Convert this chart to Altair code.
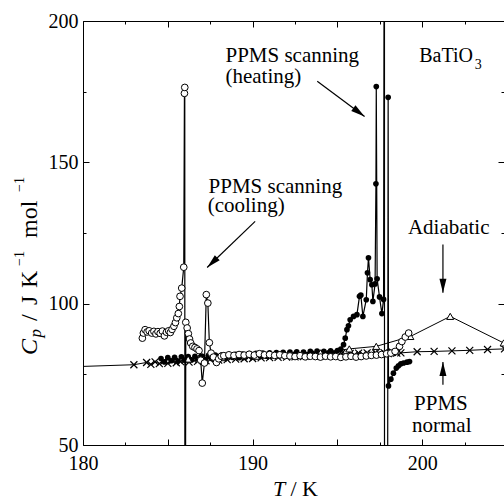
import altair as alt
import pandas as pd

# ---------------- data ----------------
# PPMS normal (x markers)
normal_T = [176.0, 183.0,
            183.75, 184.0, 184.25, 184.5, 184.75, 185.0, 185.25, 185.5, 185.75, 186.0,
            186.25, 186.5, 186.75, 187.0, 187.25, 187.5, 187.75, 188.0, 188.25, 188.5,
            188.75, 189.0, 189.25, 189.5, 189.75, 190.0, 190.25, 190.5, 190.75, 191.0,
            191.25, 191.5, 191.75, 192.0, 192.25, 192.5, 192.75, 193.0, 193.25, 193.5,
            193.75, 194.0, 194.25, 194.5, 194.75, 195.0, 195.25, 195.5, 195.75, 196.0,
            196.25, 196.5, 196.75, 197.0, 197.25, 197.5, 197.75, 198.0, 198.25, 198.5,
            198.74, 199.7, 200.7, 201.75, 202.8, 203.85, 204.85, 205.9]
normal_Cp = [77.0, 78.4,
             79.2, 78.5, 79.4, 78.8, 79.6, 78.9, 79.9, 79.1, 79.5, 80.1,
             79.3, 80.2, 79.6, 80.5, 79.8, 80.3, 80.9, 80.0, 80.7, 80.2,
             81.0, 80.4, 81.1, 80.5, 81.2, 80.6, 81.4, 80.8, 81.5, 80.9,
             81.6, 81.0, 81.7, 81.1, 81.8, 81.2, 81.9, 81.3, 82.0, 81.4,
             82.1, 81.5, 82.2, 81.6, 82.3, 81.7, 82.4, 81.8, 82.4, 81.9,
             82.5, 82.0, 82.6, 82.1, 82.6, 82.2, 82.7, 82.3, 82.8, 82.5,
             82.6, 83.0, 83.1, 83.3, 83.5, 83.8, 84.0, 84.2]

# PPMS scanning, heating (filled circles)
heat_T = [184.6, 184.8, 185.0, 185.2, 185.4, 185.6, 185.8, 186.0, 186.2, 186.4,
          186.6, 186.8, 187.0, 187.2, 187.4, 187.6, 187.8, 188.0, 188.2, 188.4,
          188.6, 188.8, 189.0, 189.2, 189.4, 189.6, 189.8, 190.0, 190.2, 190.4,
          190.6, 190.8, 191.0, 191.2, 191.4, 191.6, 191.8, 192.0, 192.2, 192.4,
          192.6, 192.8, 193.0, 193.2, 193.4, 193.6, 193.8, 194.0, 194.2, 194.4,
          194.6, 194.8, 195.0, 195.2,
          195.36, 195.46, 195.56, 195.65, 195.75, 195.95, 196.15, 196.30, 196.38, 196.50,
          196.70, 196.77, 196.83, 196.93, 197.03, 197.09, 197.22, 197.27, 197.29, 197.34,
          197.48, 197.62, 197.72, 197.77, 197.78, 197.92, 197.99, 198.01, 198.15, 198.30,
          198.47, 198.60, 198.74, 198.90, 199.10, 199.25]
heat_Cp = [80.6, 79.4, 80.9, 79.8, 81.0, 79.7, 81.2, 80.0, 81.3, 80.1,
           81.4, 80.4, 81.5, 80.3, 81.7, 80.6, 81.8, 80.7, 81.9, 80.9,
           82.0, 81.0, 82.1, 80.9, 82.2, 81.2, 82.3, 81.1, 82.4, 81.3,
           82.5, 81.4, 82.6, 81.5, 82.7, 81.6, 82.8, 81.7, 82.9, 81.8,
           83.0, 81.9, 82.9, 82.0, 83.1, 82.1, 83.2, 82.2, 83.1, 82.4,
           83.3, 82.5, 83.4, 83.9,
           85.5, 87.8, 90.8, 92.2, 94.3, 95.5, 96.1, 102.6, 103.0, 95.5,
           101.4, 110.9, 116.2, 108.5, 106.7, 100.8, 107.0, 142.4, 176.8, 108.8,
           102.4, 96.5, 101.5, 300.0, -150.0, -150.0, 173.0, 70.9, 73.3, 75.4,
           77.2, 78.0, 78.7, 79.0, 79.3, 79.5]

# PPMS scanning, cooling (open circles)
cool_T = [183.50, 183.56, 183.66, 183.78, 183.90, 184.05, 184.18, 184.30, 184.42, 184.55,
          184.68, 184.80, 184.92, 185.05, 185.15, 185.25, 185.36, 185.45, 185.53, 185.62,
          185.68, 185.72, 185.82, 185.94, 185.98, 186.00, 186.01, 186.06, 186.14, 186.21,
          186.28, 186.35, 186.47, 186.60, 186.72, 186.84, 186.94, 187.03, 187.16, 187.27,
          187.36, 187.45, 187.55, 187.69, 187.87, 188.00, 188.15,
          188.3, 188.6, 188.9, 189.2, 189.5, 189.8, 190.1, 190.4, 190.7, 191.0,
          191.3, 191.6, 191.9, 192.2, 192.5, 192.8, 193.1, 193.4, 193.7, 194.0,
          194.3, 194.6, 194.9, 195.2, 195.5, 195.8, 196.1, 196.4, 196.7,
          197.0, 197.3, 197.6, 197.9, 198.15, 198.4, 198.66, 198.8, 199.0, 199.2]
cool_Cp = [87.8, 89.6, 90.8, 90.0, 90.4, 89.6, 90.2, 89.3, 90.1, 89.5,
           90.3, 88.6, 89.9, 90.4, 89.8, 90.9, 92.0, 93.3, 95.0, 96.5,
           99.0, 102.6, 105.5, 112.9, 174.4, 176.5, -100.0, 93.4, 91.4, 89.4,
           87.5, 86.1, 84.9, 84.5, 84.0, 83.4, 80.0, 71.9, 79.0, 103.2,
           100.2, 86.2, 82.5, 81.1, 79.2, 80.5, 81.4,
           81.6, 81.9, 81.7, 82.0, 81.8, 82.1, 81.8, 82.3, 81.9, 82.0,
           81.7, 81.9, 81.6, 81.5, 81.3, 81.6, 81.2, 81.4, 81.3, 81.1,
           81.4, 81.2, 81.3, 81.0, 81.2, 81.4, 81.1, 81.3, 81.5,
           81.7, 81.8, 82.0, 82.3, 82.5, 83.1, 84.9, 86.6, 88.2, 89.6]

# Adiabatic (open triangles)
adia_T = [186.2, 188.2, 190.2, 192.2, 194.0, 195.7, 197.29, 199.3, 201.65, 204.8, 207.0]
adia_Cp = [80.4, 80.9, 81.4, 81.9, 82.6, 84.0, 84.9, 88.4, 95.5, 86.1, 84.0]

# annotation texts (data coordinates)
lab_left_text = ["PPMS scanning", "(heating)", "PPMS scanning", "(cooling)"]
lab_left_T = [188.40, 188.40, 187.40, 187.35]
lab_left_Cp = [185.4, 177.9, 139.3, 132.3]
lab_ctr_text = ["Adiabatic", "PPMS", "normal"]
lab_ctr_T = [201.56, 201.10, 201.15]
lab_ctr_Cp = [124.8, 62.4, 54.7]

# arrows: tail -> head (data coordinates), head angle (deg, clockwise from up)
arr_tail_T = [193.81, 190.15, 201.22, 201.22]
arr_tail_Cp = [178.7, 129.1, 120.9, 71.3]
arr_head_T = [196.60, 187.32, 201.22, 201.22]
arr_head_Cp = [166.2, 112.8, 103.9, 79.4]
arr_angle = [126.7, 226.2, 180.0, 0.0]

x_major = [180, 185, 190, 195, 200]
x_minor = [182.5, 187.5, 192.5, 197.5, 202.5]
x_labels = [180, 190, 200]
y_major = [50, 100, 150, 200]
y_minor = [75, 125, 175]

# ---------------- chart ----------------
FONT = "Liberation Serif, Times New Roman, Times, serif"
W, H = 421, 424
xs = alt.Scale(domain=[180, 204.82], nice=False, zero=False)
ys = alt.Scale(domain=[50, 200], nice=False, zero=False)


def axis(orient, **kw):
    base = dict(orient=orient, grid=False, labels=False, ticks=False, domain=False,
                title=None, tickColor="black", domainColor="black", tickWidth=1,
                domainWidth=1)
    base.update(kw)
    return alt.Axis(**base)


X_lab = axis("bottom", values=x_labels, labels=True, labelFont=FONT, labelFontSize=20,
             labelColor="black", labelPadding=8, labelFlush=False, tickSize=0, domain=True)
X_bmaj = axis("bottom", values=x_major, ticks=True, tickSize=6, offset=-6)
X_bmin = axis("bottom", values=x_minor, ticks=True, tickSize=3, offset=-3)
X_top = axis("top", values=x_major, domain=True, tickSize=0)
X_tmaj = axis("top", values=x_major, ticks=True, tickSize=6, offset=-6)
X_tmin = axis("top", values=x_minor, ticks=True, tickSize=3, offset=-3)
Y_lab = axis("left", values=y_major, labels=True, labelFont=FONT, labelFontSize=20,
             labelColor="black", labelPadding=5, tickSize=0, domain=True)
Y_lmaj = axis("left", values=y_major, ticks=True, tickSize=6, offset=-6)
Y_lmin = axis("left", values=y_minor, ticks=True, tickSize=3, offset=-3)
Y_rmaj = axis("right", values=y_major, ticks=True, tickSize=6, offset=-6)
Y_rmin = axis("right", values=y_minor, ticks=True, tickSize=3, offset=-3)


def series(T, Cp):
    return pd.DataFrame({"T": T, "Cp": Cp, "i": list(range(len(T)))})


def enc(xa=None, ya=None):
    return dict(x=alt.X("T:Q", scale=xs, axis=xa),
                y=alt.Y("Cp:Q", scale=ys, axis=ya),
                order=alt.Order("i:Q"))


normal_df = series(normal_T, normal_Cp)
heat_df = series(heat_T, heat_Cp)
cool_df = series(cool_T, cool_Cp)
adia_df = series(adia_T, adia_Cp)

CROSS = "M-1,-1L1,1M-1,1L1,-1"
HEAD = "M0,0L0.5,2L-0.5,2Z"

normal_line = alt.Chart(normal_df).mark_line(color="black", strokeWidth=1, clip=True).encode(**enc(X_lab, Y_lab))
normal_pts = alt.Chart(normal_df).mark_point(shape=CROSS, size=49, filled=False, stroke="black",
                                              strokeWidth=1.2, opacity=1, clip=True).encode(**enc(X_bmaj, Y_lmaj))
heat_line = alt.Chart(heat_df).mark_line(color="black", strokeWidth=1.2, clip=True).encode(**enc(X_bmin, Y_lmin))
heat_pts = alt.Chart(heat_df).mark_circle(size=32, color="black", opacity=1, clip=True).encode(**enc(X_top, Y_rmaj))
adia_line = alt.Chart(adia_df).mark_line(color="black", strokeWidth=1, clip=True).encode(**enc(X_tmaj, Y_rmin))
adia_pts = alt.Chart(adia_df).mark_point(shape="triangle-up", size=50, filled=True, fill="white",
                                          stroke="black", strokeWidth=1, opacity=1, clip=True).encode(**enc(X_tmin, None))
cool_line = alt.Chart(cool_df).mark_line(color="black", strokeWidth=1.2, clip=True).encode(**enc(None, None))
cool_pts = alt.Chart(cool_df).mark_point(shape="circle", size=45, filled=True, fill="white",
                                          stroke="black", strokeWidth=1, opacity=1, clip=True).encode(**enc(None, None))

arr_df = pd.DataFrame({"tx": arr_tail_T, "ty": arr_tail_Cp, "hx": arr_head_T, "hy": arr_head_Cp,
                       "ang": arr_angle})
arr_rule = alt.Chart(arr_df).mark_rule(color="black", strokeWidth=1.2).encode(
    x=alt.X("tx:Q", scale=xs, axis=None), y=alt.Y("ty:Q", scale=ys, axis=None),
    x2="hx:Q", y2="hy:Q")
arr_head = alt.Chart(arr_df).mark_point(shape=HEAD, size=196, filled=True, color="black",
                                         opacity=1, strokeWidth=0).encode(
    x=alt.X("hx:Q", scale=xs, axis=None), y=alt.Y("hy:Q", scale=ys, axis=None),
    angle=alt.Angle("ang:Q", scale=None))

left_df = pd.DataFrame({"T": lab_left_T, "Cp": lab_left_Cp, "t": lab_left_text})
ctr_df = pd.DataFrame({"T": lab_ctr_T, "Cp": lab_ctr_Cp, "t": lab_ctr_text})
txt_left = alt.Chart(left_df).mark_text(font=FONT, fontSize=21, align="left", baseline="alphabetic",
                                        color="black").encode(
    x=alt.X("T:Q", scale=xs, axis=None), y=alt.Y("Cp:Q", scale=ys, axis=None), text="t:N")
txt_ctr = alt.Chart(ctr_df).mark_text(font=FONT, fontSize=21, align="center", baseline="alphabetic",
                                      color="black").encode(
    x=alt.X("T:Q", scale=xs, axis=None), y=alt.Y("Cp:Q", scale=ys, axis=None), text="t:N")

formula_df = pd.DataFrame({"T": [199.82, 203.10], "Cp": [185.4, 183.0], "t": ["BaTiO", "3"],
                           "fs": [20, 14]})
formula = alt.Chart(formula_df).mark_text(font=FONT, align="left", baseline="alphabetic",
                                          color="black").encode(
    x=alt.X("T:Q", scale=xs, axis=None), y=alt.Y("Cp:Q", scale=ys, axis=None), text="t:N",
    size=alt.Size("fs:Q", scale=None))

# axis titles composed of pieces (pixel offsets from the plot origin)
OX, OY = 83, 21


def piece(text, px, py, fs, italic=False, angle=0):
    kw = dict(text=text, font=FONT, fontSize=fs, align="left", baseline="alphabetic", color="black")
    if italic:
        kw["fontStyle"] = "italic"
    if angle:
        kw["angle"] = angle
    return alt.Chart(pd.DataFrame({"a": [0]})).mark_text(**kw).encode(
        x=alt.value(px - OX), y=alt.value(py - OY))


BX = 37
SX = 24
titles = [
    piece("T", 273, 496, 22, italic=True),
    piece("/ K", 290.5, 496, 22),
    piece("C", BX, 355, 24, italic=True, angle=270),
    piece("p", BX + 4, 337.5, 17, italic=True, angle=270),
    piece("/", BX, 321, 24, angle=270),
    piece("J", BX, 305, 24, angle=270),
    piece("K", BX, 288, 24, angle=270),
    piece("\u22121", SX, 266, 14, angle=270),
    piece("mol", BX, 238, 24, angle=270),
    piece("\u22121", SX, 192, 14, angle=270),
]

chart = alt.layer(
    normal_line, normal_pts, heat_line, heat_pts, adia_line, adia_pts, cool_line, cool_pts,
    arr_rule, arr_head, txt_left, txt_ctr, formula, *titles
).resolve_axis(x="independent", y="independent").properties(
    width=W, height=H,
    autosize=alt.AutoSizeParams(type="none"),
    padding={"left": OX, "top": OY, "right": 0, "bottom": 501 - OY - H},
    background="white",
).configure_view(stroke=None)

chart.save("out.html", embed_options={"renderer": "svg", "actions": False})
